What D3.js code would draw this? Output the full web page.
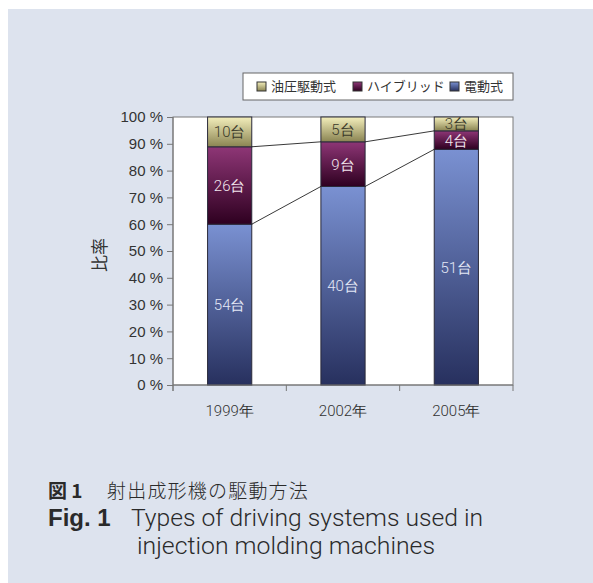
<!DOCTYPE html>
<html>
<head>
<meta charset="utf-8">
<script src="https://cdn.jsdelivr.net/npm/d3@7"></script>
<style>
  html, body { margin: 0; padding: 0; background: #ffffff; }
  svg { display: block; }
  text { font-family: "Liberation Sans", "Noto Sans CJK JP", sans-serif; }
  .jp { font-family: "Noto Sans CJK JP", "Liberation Sans", sans-serif; }
  .light { font-family: Roboto, "Liberation Sans", sans-serif; font-weight: 300; }
</style>
</head>
<body>
<svg id="chart" width="593" height="583"></svg>
<script>
// Machine counts per drive type for each survey year
const years = ["1999年", "2002年", "2005年"];
const seriesNames = ["電動式", "ハイブリッド", "油圧駆動式"];
const electric = [54, 40, 51];
const hybrid = [26, 9, 4];
const hydraulic = [10, 5, 3];
const yTicks = [0, 10, 20, 30, 40, 50, 60, 70, 80, 90, 100];
const legendOrder = ["油圧駆動式", "ハイブリッド", "電動式"];

const counts = [electric, hybrid, hydraulic];
const colors = {
  "電動式": ["#7a91d2", "#27305e"],
  "ハイブリッド": ["#8e3676", "#2e0020"],
  "油圧駆動式": ["#f3eebb", "#8a8452"]
};
const labelFill = { "電動式": "#e4e8f6", "ハイブリッド": "#f2e6ee", "油圧駆動式": "#3a3a2a" };

const svg = d3.select("#chart");
const W = 593, H = 583;

// panel background
svg.append("rect").attr("x", 8).attr("y", 9).attr("width", W - 8).attr("height", H - 9).attr("fill", "#dde3ee");

const plot = { left: 173, right: 513, top: 117, bottom: 385 };

const x = d3.scaleBand().domain(years).range([plot.left, plot.right]).paddingInner(0.61).paddingOuter(0.305);
const y = d3.scaleLinear().domain([0, 100]).range([plot.bottom, plot.top]);

// percentage stacks
const rows = years.map((yr, i) => {
  const total = counts.reduce((s, c) => s + c[i], 0);
  const row = { year: yr };
  seriesNames.forEach((n, k) => { row[n] = counts[k][i] / total * 100; });
  row.counts = counts.map(c => c[i]);
  return row;
});
const stack = d3.stack().keys(seriesNames)(rows);

const defs = svg.append("defs");
seriesNames.forEach((n, k) => {
  const g = defs.append("linearGradient").attr("id", "grad" + k)
    .attr("x1", 0).attr("y1", 0).attr("x2", 0).attr("y2", 1);
  g.append("stop").attr("offset", "0%").attr("stop-color", colors[n][0]);
  g.append("stop").attr("offset", "100%").attr("stop-color", colors[n][1]);
});
defs.append("clipPath").attr("id", "plotClip").append("rect")
  .attr("x", plot.left).attr("y", plot.top)
  .attr("width", plot.right - plot.left).attr("height", plot.bottom - plot.top);

// plot area
svg.append("rect").attr("x", plot.left).attr("y", plot.top)
  .attr("width", plot.right - plot.left).attr("height", plot.bottom - plot.top)
  .attr("fill", "#ffffff").attr("stroke", "#7a7a7a").attr("stroke-width", 1);

// bars
const barG = svg.append("g");
stack.forEach((layer, k) => {
  barG.selectAll(null).data(layer).enter().append("rect")
    .attr("x", d => x(d.data.year))
    .attr("y", d => y(d[1]))
    .attr("width", x.bandwidth())
    .attr("height", d => y(d[0]) - y(d[1]))
    .attr("fill", "url(#grad" + k + ")")
    .attr("stroke", "#2a2a3a").attr("stroke-width", 1);
});

// series connector lines between stacked segment tops
[0, 1].forEach(k => {
  const layer = stack[k];
  for (let i = 0; i < years.length - 1; i++) {
    svg.append("line")
      .attr("x1", x(years[i]) + x.bandwidth()).attr("y1", y(layer[i][1]))
      .attr("x2", x(years[i + 1])).attr("y2", y(layer[i + 1][1]))
      .attr("stroke", "#222").attr("stroke-width", 0.9);
  }
});

// value labels
const labG = svg.append("g").attr("clip-path", "url(#plotClip)");
stack.forEach((layer, k) => {
  labG.selectAll(null).data(layer).enter().append("text")
    .attr("class", "light")
    .attr("x", d => x(d.data.year) + x.bandwidth() / 2)
    .attr("y", d => y((d[0] + d[1]) / 2))
    .attr("dy", "0.36em")
    .attr("text-anchor", "middle")
    .attr("font-size", 15)
    .attr("fill", labelFill[seriesNames[k]])
    .text(d => d.data.counts[k] + "台");
});

// y axis
const yAxis = d3.axisLeft(y).tickValues(yTicks).tickSize(6).tickPadding(4).tickFormat(d => d + " %");
const ya = svg.append("g").attr("transform", `translate(${plot.left},0)`).call(yAxis);
ya.select(".domain").attr("stroke", "#777").attr("d", `M0,${plot.top}V${plot.bottom + 6}`);
ya.selectAll(".tick line").attr("stroke", "#777");
ya.selectAll(".tick text").attr("font-size", 15).attr("fill", "#333")
  .attr("font-family", "Roboto, Liberation Sans, sans-serif").attr("font-weight", 300);

// x axis: tick marks at category boundaries
const bounds = [plot.left, ...years.map(yr => x(yr) - x.step() * x.paddingInner() / 2 + x.step())];
const xa = svg.append("g");
xa.append("line").attr("x1", plot.left).attr("x2", plot.right).attr("y1", plot.bottom).attr("y2", plot.bottom).attr("stroke", "#777");
xa.selectAll(null).data(bounds).enter().append("line")
  .attr("x1", d => d).attr("x2", d => d).attr("y1", plot.bottom).attr("y2", plot.bottom + 6)
  .attr("stroke", "#777");
xa.selectAll(null).data(years).enter().append("text")
  .attr("class", "light")
  .attr("x", d => x(d) + x.bandwidth() / 2).attr("y", 416)
  .attr("text-anchor", "middle").attr("font-size", 15).attr("fill", "#333")
  .text(d => d);

// y axis title
svg.append("text").attr("class", "jp")
  .attr("transform", "translate(106,255) rotate(-90)")
  .attr("text-anchor", "middle").attr("font-size", 17).attr("fill", "#333")
  .text("比率");

// legend
const lg = svg.append("g");
lg.append("rect").attr("x", 243).attr("y", 73).attr("width", 270).attr("height", 27)
  .attr("fill", "#ffffff").attr("stroke", "#666");
const legX = [257, 353, 450];
legendOrder.forEach((n, i) => {
  const k = seriesNames.indexOf(n);
  lg.append("rect").attr("x", legX[i]).attr("y", 82).attr("width", 9).attr("height", 9)
    .attr("fill", "url(#grad" + k + ")").attr("stroke", "#333");
  lg.append("text").attr("class", "jp").attr("x", legX[i] + 14).attr("y", 91)
    .attr("font-size", 13).attr("fill", "#333").text(n);
});

// caption
const cap = svg.append("g").attr("fill", "#2a2a2a");
cap.append("text").attr("class", "jp").attr("x", 48).attr("y", 498)
  .attr("font-size", 19).attr("font-weight", "bold").text("図 1");
cap.append("text").attr("class", "jp").attr("x", 107).attr("y", 498)
  .attr("font-size", 19).attr("font-weight", 300).attr("letter-spacing", 1.2).text("射出成形機の駆動方法");
cap.append("text").attr("x", 48).attr("y", 526)
  .attr("font-size", 24).attr("font-weight", "bold").text("Fig. 1");
cap.append("text").attr("class", "light").attr("x", 131).attr("y", 526)
  .attr("font-size", 24).attr("textLength", 352).attr("lengthAdjust", "spacingAndGlyphs").text("Types of driving systems used in");
cap.append("text").attr("class", "light").attr("x", 137).attr("y", 554)
  .attr("font-size", 24).attr("textLength", 298).attr("lengthAdjust", "spacingAndGlyphs").text("injection molding machines");
</script>
</body>
</html>
